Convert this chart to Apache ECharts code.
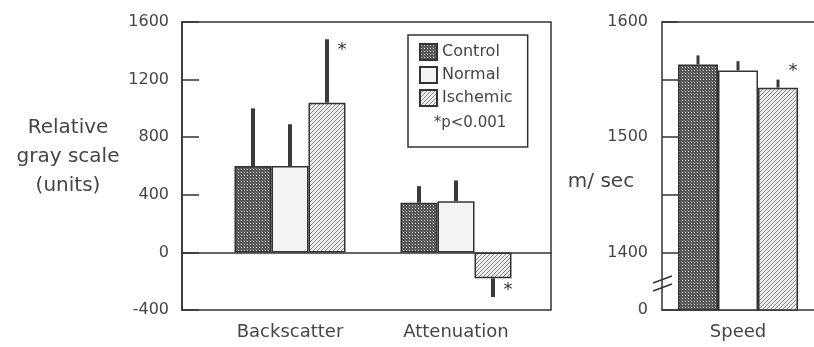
<!DOCTYPE html>
<html>
<head>
<meta charset="utf-8">
<script src="https://cdn.jsdelivr.net/npm/echarts@6/dist/echarts.min.js"></script>
<style>
  html, body { margin: 0; padding: 0; background: #fff; }
  #main { width: 814px; height: 347px; }
</style>
</head>
<body>
<div id="main"></div>
<script>
// data
const categories = ['Backscatter', 'Attenuation'];
const controlVals = [600, 345];
const controlErr = [1000, 460];
const normalVals = [600, 355];
const normalErr = [890, 500];
const ischemicVals = [1040, -180];
const ischemicErr = [1480, -310];
const ischemicSig = [1, 1];

const speedCategories = ['Speed'];
const speedControl = [1563];
const speedControlErr = [1571];
const speedNormal = [1558];
const speedNormalErr = [1566];
const speedIschemic = [1543];
const speedIschemicErr = [1550];
const speedSig = [1];

const leftTicks = { min: -400, max: 1600, interval: 400 };
const rightTicks = { min: 1350, max: 1600, interval: 50 };
const rightLabels = { 1350: '0', 1400: '1400', 1500: '1500', 1600: '1600' };

const FONT = 'DejaVu Sans';
const TXT = '#454545';
const INK = '#333';

// fill patterns
function tile(w, h, draw) {
    const c = document.createElement('canvas');
    c.width = w; c.height = h;
    draw(c.getContext('2d'));
    return { image: c, repeat: 'repeat' };
}
const checkFill = tile(3, 3, ctx => {
    ctx.fillStyle = '#555555'; ctx.fillRect(0, 0, 3, 3);
    ctx.fillStyle = '#d0d0d0'; ctx.fillRect(1, 1, 1, 1);
    ctx.fillStyle = '#7a7a7a'; ctx.fillRect(0, 0, 1, 1);
});
const hatchFill = tile(4, 4, ctx => {
    ctx.fillStyle = '#ececec'; ctx.fillRect(0, 0, 4, 4);
    ctx.fillStyle = '#8a8a8a';
    for (let i = 0; i < 4; i++) ctx.fillRect(3 - i, i, 1, 1);
});

function errData(vals, errs, sig) {
    return vals.map((v, i) => [i, v, errs[i], sig ? sig[i] : 0]);
}

function errSeries(name, x, y, slot, barW, lw, data, starPos, starNeg) {
    return {
        type: 'custom', name: name, xAxisIndex: x, yAxisIndex: y, z: 5, silent: true,
        data: data,
        renderItem: function (params, api) {
            const base = api.coord([api.value(0), api.value(1)]);
            const end = api.coord([api.value(0), api.value(2)]);
            const cx = base[0] + slot * barW;
            const kids = [{
                type: 'line',
                shape: { x1: cx, y1: base[1], x2: cx, y2: end[1] },
                style: { stroke: '#3a3a3a', lineWidth: lw }
            }];
            if (api.value(3)) {
                kids.push({
                    type: 'text',
                    style: {
                        text: '*', x: cx + 15,
                        y: end[1] + (api.value(2) < 0 ? starNeg : starPos),
                        fill: INK, font: '18px ' + FONT,
                        align: 'center', verticalAlign: 'middle'
                    }
                });
            }
            return { type: 'group', children: kids };
        }
    };
}

const barStyle = (fill) => ({ color: fill, borderColor: INK, borderWidth: 1.5 });

const chart = echarts.init(document.getElementById('main'), null, { renderer: 'canvas' });
const LBW = 37, RBW = 40;

chart.setOption({
    backgroundColor: '#fff',
    animation: false,
    textStyle: { fontFamily: FONT },
    title: [
        { text: 'Relative\ngray scale\n(units)', left: 68, top: 113, textAlign: 'center', padding: 0,
          textStyle: { fontFamily: FONT, fontSize: 20, fontWeight: 'normal', color: TXT, lineHeight: 29 } },
        { text: 'm/ sec', left: 601, top: 172, textAlign: 'center', padding: 0,
          textStyle: { fontFamily: FONT, fontSize: 20, fontWeight: 'normal', color: TXT } },
        { text: '*p<0.001', left: 470, top: 116, textAlign: 'center', padding: 0,
          textStyle: { fontFamily: FONT, fontSize: 15, fontWeight: 'normal', color: TXT } }
    ],
    legend: {
        data: ['Control', 'Normal', 'Ischemic'],
        orient: 'vertical', left: 408, top: 35,
        padding: [8, 15, 40, 11],
        itemWidth: 17, itemHeight: 16, itemGap: 5,
        icon: 'rect',
        borderColor: INK, borderWidth: 1.5,
        textStyle: { fontFamily: FONT, fontSize: 16, color: TXT },
        selectedMode: false
    },
    grid: [
        { left: 207, top: 22, width: 332, height: 288 },
        { left: 182, top: 22, width: 369, height: 288, show: true, borderColor: INK, borderWidth: 1.5 },
        { left: 662, top: 22, right: 0, height: 288 }
    ],
    xAxis: [
        { gridIndex: 0, type: 'category', data: categories, boundaryGap: true,
          axisLine: { show: false }, axisTick: { show: false },
          axisLabel: { margin: 13, fontFamily: FONT, fontSize: 18, color: TXT } },
        { gridIndex: 1, type: 'value', min: 0, max: 1,
          axisLine: { show: true, onZero: true, lineStyle: { color: INK, width: 1.5 } },
          axisTick: { show: false }, axisLabel: { show: false }, splitLine: { show: false } },
        { gridIndex: 2, type: 'category', data: speedCategories, boundaryGap: true,
          axisLine: { show: true, onZero: false, lineStyle: { color: INK, width: 1.5 } }, axisTick: { show: false },
          axisLabel: { margin: 13, fontFamily: FONT, fontSize: 18, color: TXT } },
        // top frame line of the speed panel (open on the right, as in the figure)
        { gridIndex: 2, type: 'category', data: speedCategories, position: 'top',
          axisLine: { show: true, onZero: false, lineStyle: { color: INK, width: 1.5 } },
          axisTick: { show: false }, axisLabel: { show: false } }
    ],
    yAxis: [
        { gridIndex: 0, type: 'value', min: leftTicks.min, max: leftTicks.max, show: false },
        { gridIndex: 1, type: 'value', min: leftTicks.min, max: leftTicks.max, interval: leftTicks.interval,
          axisLine: { show: true, lineStyle: { color: INK, width: 1.5 } },
          axisTick: { show: true, inside: true, length: 17, lineStyle: { color: INK, width: 1.5 } },
          axisLabel: { margin: 13, fontFamily: FONT, fontSize: 16, color: TXT, formatter: v => String(v) },
          splitLine: { show: false } },
        { gridIndex: 2, type: 'value', min: rightTicks.min, max: rightTicks.max, interval: rightTicks.interval,
          axisLine: { show: true, lineStyle: { color: INK, width: 1.5 } },
          axisTick: { show: true, inside: true, length: 16, lineStyle: { color: INK, width: 1.5 } },
          axisLabel: { margin: 14, fontFamily: FONT, fontSize: 16, color: TXT,
                       formatter: v => rightLabels[v] || '' },
          splitLine: { show: false } }
    ],
    series: [
        { type: 'bar', name: 'Control', xAxisIndex: 0, yAxisIndex: 0, data: controlVals,
          barWidth: LBW, barGap: '0%', itemStyle: barStyle(checkFill) },
        { type: 'bar', name: 'Normal', xAxisIndex: 0, yAxisIndex: 0, data: normalVals,
          barWidth: LBW, barGap: '0%', itemStyle: barStyle('#f3f3f3') },
        { type: 'bar', name: 'Ischemic', xAxisIndex: 0, yAxisIndex: 0, data: ischemicVals,
          barWidth: LBW, barGap: '0%', itemStyle: barStyle(hatchFill) },
        errSeries('ctrlErr', 0, 0, -1, LBW, 4, errData(controlVals, controlErr), 11, -7),
        errSeries('normErr', 0, 0, 0, LBW, 4, errData(normalVals, normalErr), 11, -7),
        errSeries('ischErr', 0, 0, 1, LBW, 4, errData(ischemicVals, ischemicErr, ischemicSig), 11, -7),

        { type: 'bar', name: 'Control', xAxisIndex: 2, yAxisIndex: 2, data: speedControl,
          barWidth: RBW, barGap: '0%', itemStyle: barStyle(checkFill) },
        { type: 'bar', name: 'Normal', xAxisIndex: 2, yAxisIndex: 2, data: speedNormal,
          barWidth: RBW, barGap: '0%', itemStyle: barStyle('#ffffff') },
        { type: 'bar', name: 'Ischemic', xAxisIndex: 2, yAxisIndex: 2, data: speedIschemic,
          barWidth: RBW, barGap: '0%', itemStyle: barStyle(hatchFill) },
        errSeries('sCtrlErr', 2, 2, -1, RBW, 3, errData(speedControl, speedControlErr), -8, -8),
        errSeries('sNormErr', 2, 2, 0, RBW, 3, errData(speedNormal, speedNormalErr), -8, -8),
        errSeries('sIschErr', 2, 2, 1, RBW, 3, errData(speedIschemic, speedIschemicErr, speedSig), -8, -8)
    ],
    graphic: [
        // axis break marks on the speed axis
        { type: 'line', shape: { x1: 653, y1: 283, x2: 672, y2: 276 }, style: { stroke: INK, lineWidth: 1.5 } },
        { type: 'line', shape: { x1: 653, y1: 291, x2: 672, y2: 284 }, style: { stroke: INK, lineWidth: 1.5 } }
    ]
});
</script>
</body>
</html>
